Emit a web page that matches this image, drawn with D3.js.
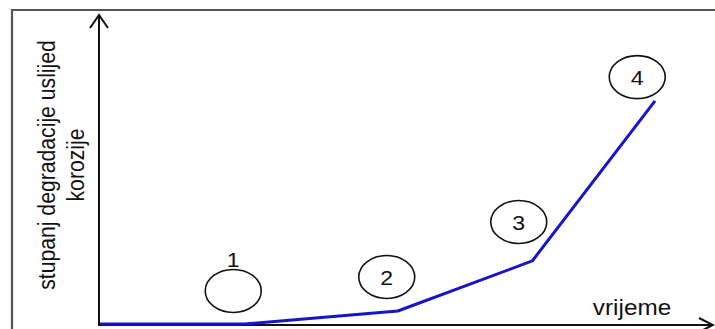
<!DOCTYPE html>
<html>
<head>
<style>
body { margin: 0; background: #fff; }
text { font-family: "Liberation Sans", Arial, sans-serif; fill: #111; }
</style>
</head>
<body>
<script src="https://cdn.jsdelivr.net/npm/d3@7"></script>
<script>
// curve points (time, degradation)
var time = [0, 23.6, 48.5, 70.4, 90.4]
var degradation = [0, 0, 4.2, 20.4, 72.2]

// phase markers
var phaseLabels = ["1", "2", "3", "4"]
var phaseTime = [21.7, 46.7, 68.2, 87.5]
var phaseDeg = [10.7, 15.2, 33, 79.9]
var labelInside = [false, true, true, true]

var xTitle = "vrijeme"
var yTitle = ["stupanj degradacije uslijed", "korozije"]

var W = 715, H = 329
var svg = d3.select("body").append("svg")
  .attr("width", W)
  .attr("height", H)

var x = d3.scaleLinear().domain([0, 100]).range([100, 714])
var y = d3.scaleLinear().domain([0, 100]).range([324, 15])

// frame
svg.append("path")
  .attr("d", "M12 " + H + " L12 10 L" + W + " 10")
  .attr("fill", "none")
  .attr("stroke", "#555")
  .attr("stroke-width", 2.2)

// axes with open arrowheads
var ax0 = 99, ay0 = 325
svg.append("line")
  .attr("x1", ax0).attr("y1", ay0 + 1)
  .attr("x2", ax0).attr("y2", 15)
  .attr("stroke", "#111").attr("stroke-width", 2)
svg.append("path")
  .attr("d", "M" + (ax0 - 9) + " 28 L" + ax0 + " 15 L" + (ax0 + 9) + " 28")
  .attr("fill", "none").attr("stroke", "#111").attr("stroke-width", 2)

svg.append("line")
  .attr("x1", ax0).attr("y1", ay0)
  .attr("x2", 713).attr("y2", ay0)
  .attr("stroke", "#111").attr("stroke-width", 2)
svg.append("path")
  .attr("d", "M699 " + (ay0 - 7) + " L713 " + ay0 + " L699 " + (ay0 + 7))
  .attr("fill", "none").attr("stroke", "#111").attr("stroke-width", 2)

// curve
var pts = time.map(function(t, i) { return [t, degradation[i]] })
var line = d3.line()
  .x(function(d) { return x(d[0]) })
  .y(function(d) { return y(d[1]) })

svg.append("path")
  .datum(pts)
  .attr("d", line)
  .attr("fill", "none")
  .attr("stroke", "#1515cc")
  .attr("stroke-width", 3)
  .attr("stroke-linejoin", "round")

// phase circles
var g = svg.append("g")
phaseLabels.forEach(function(lab, i) {
  var cx = x(phaseTime[i]), cy = y(phaseDeg[i])
  g.append("ellipse")
    .attr("cx", cx).attr("cy", cy)
    .attr("rx", 28).attr("ry", 21.5)
    .attr("fill", "none")
    .attr("stroke", "#111")
    .attr("stroke-width", 1.6)
  var ty = labelInside[i] ? cy + 7.5 : cy - 24
  g.append("text")
    .attr("transform", "translate(" + cx + "," + ty + ") scale(1.1,1)")
    .attr("text-anchor", "middle")
    .attr("font-size", 21)
    .text(lab)
})

// axis titles
svg.append("text")
  .attr("transform", "translate(632,315) scale(1.13,1)")
  .attr("text-anchor", "middle")
  .attr("font-size", 21.5)
  .text(xTitle)

var yt = svg.append("g")
  .attr("transform", "translate(55,165) scale(1.15,1) rotate(-90)")
yTitle.forEach(function(s, i) {
  yt.append("text")
    .attr("x", 0)
    .attr("y", i * 25)
    .attr("text-anchor", "middle")
    .attr("font-size", 21.2)
    .text(s)
})
</script>
</body>
</html>
